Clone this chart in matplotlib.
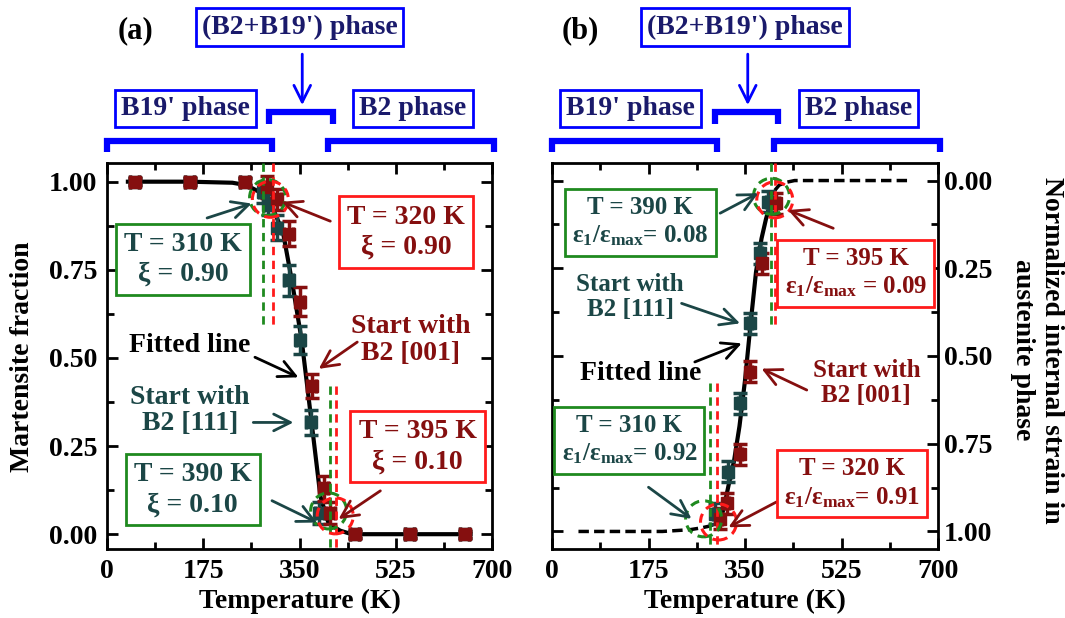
import matplotlib
matplotlib.use("Agg")
import matplotlib.pyplot as plt
import matplotlib.transforms as mtransforms
from matplotlib.patches import Circle
from matplotlib.ticker import MultipleLocator, FormatStrFormatter

plt.rcParams['font.family'] = ['Liberation Serif', 'DejaVu Serif']
plt.rcParams['font.weight'] = 'bold'
plt.rcParams['axes.labelweight'] = 'bold'
plt.rcParams['mathtext.fontset'] = 'custom'
plt.rcParams['mathtext.rm'] = 'Liberation Serif:bold'
plt.rcParams['mathtext.it'] = 'Liberation Serif:bold'
plt.rcParams['mathtext.bf'] = 'Liberation Serif:bold'

TEAL = '#1b4646'
DRED = '#850f0f'
GREEN = '#1f8a1f'
RED = '#ff1a1a'
BLUE = '#0000ff'
NAVY = '#1a1a6b'

# ---- (a) martensite fraction vs temperature ----
a_T_111 = [50, 150, 250, 284, 293, 309, 330, 351, 370, 386, 450, 550, 650]
a_xi_111 = [1.0, 1.0, 1.0, 0.97, 0.935, 0.87, 0.72, 0.55, 0.317, 0.06, 0.0, 0.0, 0.0]
a_err_111 = [0.01, 0.01, 0.01, 0.03, 0.03, 0.035, 0.043, 0.04, 0.035, 0.03, 0.01, 0.01, 0.01]

a_T_001 = [50, 150, 250, 291, 309, 330, 351, 372, 394, 406, 450, 550, 650]
a_xi_001 = [1.0, 1.0, 1.0, 0.985, 0.95, 0.853, 0.66, 0.42, 0.13, 0.06, 0.0, 0.0, 0.0]
a_err_001 = [0.01, 0.01, 0.01, 0.03, 0.03, 0.035, 0.04, 0.035, 0.035, 0.03, 0.01, 0.01, 0.01]

a_fit_T = [38, 150, 228, 254, 278, 300, 320, 336, 354, 372, 388, 403, 424, 445, 661]
a_fit_xi = [1.0, 1.0, 0.997, 0.99, 0.97, 0.93, 0.856, 0.72, 0.55, 0.317, 0.107, 0.03, 0.01, 0.0, 0.0]

# ---- (b) normalized internal strain in austenite ----
b_T_111 = [296, 320, 341, 359, 377, 392]
b_s_111 = [0.95, 0.83, 0.635, 0.407, 0.207, 0.06]
b_T_001 = [305, 317, 341, 359, 380, 407]
b_s_001 = [0.964, 0.92, 0.78, 0.545, 0.236, 0.065]
b_err = [0.03, 0.03, 0.03, 0.03, 0.03, 0.03]

b_fit_T = [305, 312, 320, 330, 340, 350, 360, 370, 380, 388, 395]
b_fit_s = [0.97, 0.93, 0.87, 0.80, 0.70, 0.57, 0.41, 0.26, 0.165, 0.11, 0.07]
b_ext_lo_T = [48, 200, 250, 270, 285, 297, 305]
b_ext_lo_s = [1.0, 1.0, 0.995, 0.99, 0.985, 0.978, 0.97]
b_ext_hi_T = [395, 403, 412, 425, 440, 646]
b_ext_hi_s = [0.07, 0.03, 0.013, 0.005, 0.0, 0.0]

# phase boundaries used for the brackets (K)
b19_range = (0, 300)
mixed_range = (295, 410)
b2_range = (402, 703)

fig = plt.figure(figsize=(10.65, 6.18), dpi=100)
axa = fig.add_axes([107 / 1065, 69 / 618, 385 / 1065, 386 / 618])
axb = fig.add_axes([552 / 1065, 69 / 618, 386 / 1065, 386 / 618])


def style_axes(ax):
    ax.set_xlim(0, 700)
    ax.xaxis.set_major_locator(MultipleLocator(175))
    ax.xaxis.set_minor_locator(MultipleLocator(87.5))
    ax.yaxis.set_major_locator(MultipleLocator(0.25))
    ax.yaxis.set_minor_locator(MultipleLocator(0.125))
    ax.yaxis.set_major_formatter(FormatStrFormatter('%.2f'))
    ax.tick_params(which='both', direction='in', top=True, right=True, width=2, labelsize=20)
    ax.tick_params(which='major', length=8, pad=7)
    ax.tick_params(which='minor', length=5)
    for s in ax.spines.values():
        s.set_linewidth(2)
    ax.set_xlabel('Temperature (K)', fontsize=20, labelpad=4)


def ring(ax, x, y, color, r=0.18):
    tr = fig.dpi_scale_trans + mtransforms.ScaledTranslation(x, y, ax.transData)
    ax.add_patch(Circle((0, 0), r, transform=tr, fill=False, ec=color, lw=2.2,
                        ls=(0, (3, 2)), zorder=6, clip_on=False))


def arrow(ax, tail, head, color, ms=20):
    ax.annotate('', xy=head, xytext=tail,
                arrowprops=dict(arrowstyle='->,head_length=0.6,head_width=0.3',
                                color=color, lw=2, mutation_scale=ms,
                                shrinkA=0, shrinkB=0), zorder=7)


def boxed(ax, x, y, s, tcolor, ecolor, size):
    ax.text(x, y, s, color=tcolor, fontsize=size, ha='center', va='center',
            multialignment='center', linespacing=1.25, zorder=8,
            bbox=dict(boxstyle='square,pad=0.3', fc='white', ec=ecolor, lw=2))


def phases(ax, label):
    tr = mtransforms.blended_transform_factory(ax.transData, ax.transAxes)
    kw = dict(transform=tr, clip_on=False, color=BLUE, lw=4.5, solid_capstyle='butt',
              solid_joinstyle='miter')
    for lo, hi in (b19_range, b2_range):
        ax.plot([lo, lo, hi, hi], [1.029, 1.056, 1.056, 1.029], **kw)
    ax.plot([mixed_range[0], mixed_range[0], mixed_range[1], mixed_range[1]],
            [1.101, 1.132, 1.132, 1.101], **kw)
    ax.annotate('', xy=(355, 1.15), xytext=(355, 1.282), xycoords=tr, textcoords=tr,
                arrowprops=dict(arrowstyle='->,head_length=0.6,head_width=0.3',
                                color=BLUE, lw=2, mutation_scale=20, shrinkA=0, shrinkB=0))
    pbox = dict(boxstyle='square,pad=0.22', fc='white', ec=BLUE, lw=2)
    ax.text(350, 1.352, "(B2+B19') phase", transform=tr, ha='center', va='center',
            fontsize=20, color=NAVY, bbox=pbox, clip_on=False)
    ax.text(143, 1.141, "B19' phase", transform=tr, ha='center', va='center',
            fontsize=20, color=NAVY, bbox=pbox, clip_on=False)
    ax.text(556, 1.141, "B2 phase", transform=tr, ha='center', va='center',
            fontsize=20, color=NAVY, bbox=pbox, clip_on=False)
    ax.text(52, 1.342, label, transform=tr, ha='center', va='center', fontsize=22,
            color='black', clip_on=False)


ebkw = dict(fmt='s', ms=8, capsize=5, elinewidth=2.5, capthick=2.5, zorder=4)

# ================= panel (a) =================
style_axes(axa)
axa.set_ylim(-0.042, 1.053)
axa.plot(a_fit_T, a_fit_xi, color='black', lw=3, zorder=3)
axa.errorbar(a_T_111, a_xi_111, yerr=a_err_111, xerr=8, color=TEAL, **ebkw)
axa.errorbar(a_T_001, a_xi_001, yerr=a_err_001, xerr=8, color=DRED, **ebkw)

vk = dict(lw=2, ls=(0, (3, 2)), zorder=5)
axa.plot([284, 284], [1.053, 0.59], color=GREEN, **vk)
axa.plot([301.5, 301.5], [1.053, 0.59], color=RED, **vk)
axa.plot([406, 406], [0.42, -0.042], color=GREEN, **vk)
axa.plot([417, 417], [0.42, -0.042], color=RED, **vk)
ring(axa, 292, 0.955, GREEN)
ring(axa, 297, 0.95, RED)
ring(axa, 403, 0.066, GREEN)
ring(axa, 415, 0.052, RED)

boxed(axa, 138, 0.78, 'T = 310 K\nξ = 0.90', TEAL, GREEN, 20)
arrow(axa, (182, 0.897), (263, 0.938), TEAL)
boxed(axa, 544, 0.857, 'T = 320 K\nξ = 0.90', DRED, RED, 20)
arrow(axa, (406, 0.888), (318, 0.943), DRED)
axa.text(552, 0.55, 'Start with\nB2 [001]', color=DRED, fontsize=20, ha='center',
         va='center', linespacing=1.1)
arrow(axa, (455, 0.545), (385, 0.469), DRED)
axa.text(151, 0.536, 'Fitted line', color='black', fontsize=20, ha='center', va='center')
arrow(axa, (269, 0.502), (348, 0.445), 'black')
axa.text(151, 0.351, 'Start with\nB2 [111]', color=TEAL, fontsize=20, ha='center',
         va='center', linespacing=1.1)
arrow(axa, (266, 0.317), (339, 0.317), TEAL)
boxed(axa, 565, 0.248, 'T = 395 K\nξ = 0.10', DRED, RED, 20)
arrow(axa, (497, 0.123), (421, 0.043), DRED)
boxed(axa, 156, 0.126, 'T = 390 K\nξ = 0.10', TEAL, GREEN, 20)
arrow(axa, (300, 0.095), (382, 0.033), TEAL)

phases(axa, '(a)')
fig.text(23 / 1065, 1 - 357 / 618, 'Martensite fraction', rotation=90, ha='center',
         va='center', fontsize=20)

# ================= panel (b) =================
style_axes(axb)
axb.set_ylim(1.05, -0.05)
axb.tick_params(axis='y', labelleft=False, labelright=True, pad=4)
axb.plot(b_ext_lo_T, b_ext_lo_s, color='black', lw=2.5, ls=(0, (3, 1.5)), zorder=3)
axb.plot(b_ext_hi_T, b_ext_hi_s, color='black', lw=2.5, ls=(0, (3, 1.5)), zorder=3)
axb.plot(b_fit_T, b_fit_s, color='black', lw=3, zorder=3)
axb.errorbar(b_T_111, b_s_111, yerr=b_err, xerr=4, color=TEAL, **ebkw)
axb.errorbar(b_T_001, b_s_001, yerr=b_err, xerr=4, color=DRED, **ebkw)

axb.plot([396.5, 396.5], [-0.05, 0.42], color=GREEN, **vk)
axb.plot([404, 404], [-0.05, 0.42], color=RED, **vk)
axb.plot([286.5, 286.5], [0.578, 1.05], color=GREEN, **vk)
axb.plot([298.7, 298.7], [0.578, 1.05], color=RED, **vk)
ring(axb, 398, 0.045, GREEN)
ring(axb, 404, 0.055, RED)
ring(axb, 275, 0.964, GREEN)
ring(axb, 302, 0.973, RED)

eps = 'ε$_1$/ε$_{max}$'
boxed(axb, 160, 0.118, 'T = 390 K\n' + eps + '= 0.08', TEAL, GREEN, 18)
arrow(axb, (305, 0.093), (374, 0.036), TEAL)
boxed(axb, 551, 0.263, 'T = 395 K\n' + eps + ' = 0.09', DRED, RED, 18)
arrow(axb, (510, 0.136), (428, 0.084), DRED)
axb.text(142, 0.332, 'Start with\nB2 [111]', color=TEAL, fontsize=18, ha='center',
         va='center', linespacing=1.1)
arrow(axb, (235, 0.35), (341, 0.407), TEAL)
axb.text(160, 0.549, 'Fitted line', color='black', fontsize=20, ha='center', va='center')
arrow(axb, (259, 0.517), (344, 0.464), 'black')
axb.text(570, 0.578, 'Start with\nB2 [001]', color=DRED, fontsize=18, ha='center',
         va='center', linespacing=1.1)
arrow(axb, (462, 0.597), (380, 0.536), DRED)
boxed(axb, 140, 0.74, 'T = 310 K\n' + eps + '= 0.92', TEAL, GREEN, 18)
arrow(axb, (175, 0.874), (253, 0.964), TEAL)
boxed(axb, 544, 0.863, 'T = 320 K\n' + eps + '= 0.91', DRED, RED, 18)
arrow(axb, (407, 0.916), (320, 0.988), DRED)

phases(axb, '(b)')
fig.text(1037 / 1065, 1 - 350 / 618, 'Normalized internal strain in\naustenite phase',
         rotation=-90, ha='center', va='center', fontsize=20, multialignment='center',
         linespacing=1.25)

fig.savefig('out.png', dpi=100)
